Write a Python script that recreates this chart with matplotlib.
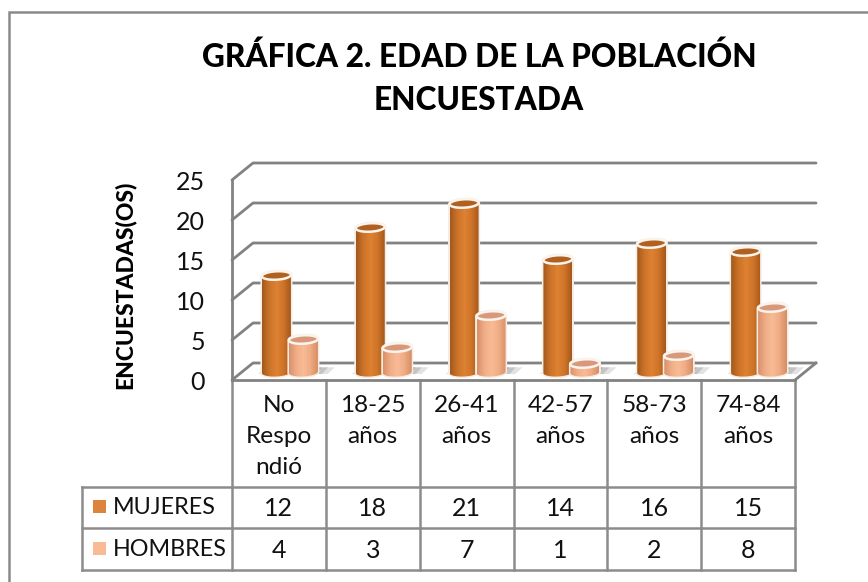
import matplotlib
matplotlib.use('Agg')
import matplotlib.pyplot as plt
import numpy as np
from matplotlib.colors import LinearSegmentedColormap
from matplotlib.patches import Polygon, Rectangle

plt.rcParams['font.family'] = ['Lato', 'DejaVu Sans']

categories = ['No\nRespo\nndió', '18-25\naños', '26-41\naños', '42-57\naños', '58-73\naños', '74-84\naños']
mujeres = [12, 18, 21, 14, 16, 15]
hombres = [4, 3, 7, 1, 2, 8]
y_ticks = [0, 5, 10, 15, 20, 25]
title_lines = ['GRÁFICA 2. EDAD DE LA POBLACIÓN', 'ENCUESTADA']
y_label = 'ENCUESTADAS(OS)'

W, H = 868, 582
GRID = '#828282'
LINE = '#8c8c8c'
TXT = '#111111'

fig = plt.figure(figsize=(W / 100, H / 100), dpi=100)

# capa en pixeles para marco y tabla
bg = fig.add_axes([0, 0, 1, 1])
bg.set_xlim(0, W)
bg.set_ylim(H, 0)
bg.axis('off')

# ejes del plano frontal
X0, X1, Y0, Y1 = 232, 795, 380, 180
ax = fig.add_axes([X0 / W, 1 - Y0 / H, (X1 - X0) / W, (Y0 - Y1) / H])
ax.axis('off')
ax.patch.set_alpha(0)

px_x = 6 / (X1 - X0)
px_y = 25 / (Y0 - Y1)
DX, DY = 21 * px_x, 17 * px_y

# marco exterior: solo arriba y a la izquierda
bg.plot([9, 9, W], [H, 12, 12], color='#8a8a8a', lw=1.8, solid_joinstyle='miter')

# paredes y rejilla
for v in y_ticks:
    ax.plot([0, DX, 6 + DX], [v, v + DY, v + DY], color=GRID, lw=2, clip_on=False,
            solid_capstyle='round', zorder=1)
    ax.text(-27 * px_x, v - 2.5 * px_y, str(v), ha='right', va='center', fontsize=18, color=TXT, clip_on=False)
ax.plot([0, 0], [0, 25], color=GRID, lw=2, clip_on=False, zorder=1)
ax.plot([0, 6], [0, 0], color=GRID, lw=2, clip_on=False, zorder=1)
ax.plot([6, 6 + DX], [0, DY], color=GRID, lw=2, clip_on=False, zorder=1)

cmap_m = LinearSegmentedColormap.from_list('m', ['#a4581c', '#cc7328', '#de8132', '#cf7529', '#a5571b'])
cmap_h = LinearSegmentedColormap.from_list('h', ['#d99069', '#f0ae88', '#f8bb95', '#efab84', '#d68d64'])
grad = np.linspace(0, 1, 64).reshape(1, -1)


def ellipse(cx, cy, a, b, tilt=0.05):
    t = np.linspace(0, 2 * np.pi, 80)
    xs = a * np.cos(t)
    return np.column_stack([cx + xs, cy + b * np.sin(t) + tilt * xs * (px_y / px_x)])


def floor_shadow(cx, a, b, z):
    # sombra difusa en el piso
    base = DY / 2
    for k, alpha in zip([1.0, 0.85, 0.7, 0.55], [0.2, 0.25, 0.3, 0.35]):
        ax.add_patch(Polygon([(cx - a * 2.2 * k, base - b * 0.6), (cx + a * 2.6 * k, base - b * 0.6),
                              (cx + a * 3.1 * k, base + b * 1.0), (cx - a * 1.6 * k, base + b * 1.0)],
                             fc='#6e6e6e', ec='none', alpha=alpha, clip_on=False, zorder=z))


def cylinder(cx, value, cmap, top_col, z):
    a = 14.5 * px_x
    b = 4.2 * px_y
    base = DY / 2
    top = value + base
    low = ellipse(cx, base - 0.1, a, b)
    body = np.vstack([low[40:80], ellipse(cx, top, a, b)[:41]])
    ax.add_patch(Polygon(body, closed=True, fc='none', ec='#f6ece2', lw=2.2, clip_on=False, zorder=z + 0.2))
    im = ax.imshow(grad, cmap=cmap, extent=(cx - a, cx + a, base - b * 1.4, top + b * 1.4),
                   aspect='auto', zorder=z + 0.25, interpolation='bilinear')
    im.set_clip_path(Polygon(body, closed=True, transform=ax.transData))
    ax.add_patch(Polygon(ellipse(cx, top, a, b), fc=top_col, ec='#fbf4ec', lw=1.8, clip_on=False, zorder=z + 0.3))


for i in range(len(categories)):
    cx = i + 0.5 + 11 * px_x
    floor_shadow(cx, 14.5 * px_x, 4.2 * px_y, 2)
    cylinder(cx - 13.5 * px_x, mujeres[i], cmap_m, '#b0601f', 3 + i)
    cylinder(cx + 13.5 * px_x, hombres[i], cmap_h, '#d8987c', 3.5 + i)
ax.set_xlim(0, 6)
ax.set_ylim(0, 25)

# tabla de datos
col_x = np.linspace(X0, X1, len(categories) + 1)
ROW1, ROW2, ROW3 = 487, 528, 570
TBL_L = 82
for r in [ROW1, ROW2, ROW3]:
    bg.plot([TBL_L, X1], [r, r], color=LINE, lw=1.8)
bg.plot([TBL_L, TBL_L], [ROW1, ROW3], color=LINE, lw=1.8)
for x in col_x:
    bg.plot([x, x], [Y0, ROW3], color=LINE, lw=1.8)

for i, lab in enumerate(categories):
    xc = (col_x[i] + col_x[i + 1]) / 2
    bg.text(xc, 395, lab, ha='center', va='top', fontsize=17.6, linespacing=1.6, color=TXT)
    bg.text(xc, (ROW1 + ROW2) / 2 + 1, str(mujeres[i]), ha='center', va='center', fontsize=18, color=TXT)
    bg.text(xc, (ROW2 + ROW3) / 2 + 1, str(hombres[i]), ha='center', va='center', fontsize=18, color=TXT)

bg.add_patch(Rectangle((93, 500), 13, 13, fc='#dc843c', ec='none'))
bg.add_patch(Rectangle((93, 542), 13, 13, fc='#f9bb96', ec='none'))
bg.text(113, (ROW1 + ROW2) / 2, 'MUJERES', ha='left', va='center', fontsize=16.8, color=TXT)
bg.text(113, (ROW2 + ROW3) / 2, 'HOMBRES', ha='left', va='center', fontsize=16.8, color=TXT)

for line, yc in zip(title_lines, [57, 100]):
    bg.text(479, yc, line, ha='center', va='center', fontsize=22.8, fontweight='black', color='black')
bg.text(125, 284.5, y_label, ha='center', va='center', rotation=90, fontsize=16.5, fontweight='black',
        color='black')

fig.savefig('out.png', dpi=100)
plt.close(fig)
